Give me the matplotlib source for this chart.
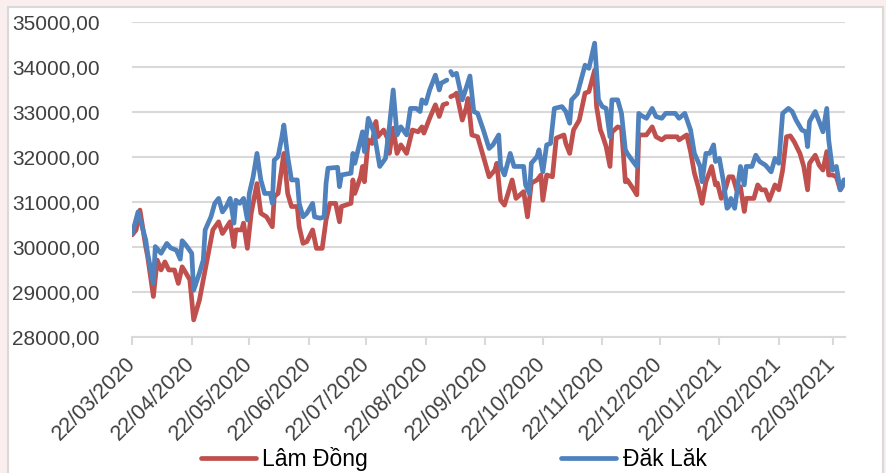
import numpy as np
import pandas as pd
import matplotlib
matplotlib.use("Agg")
import matplotlib.pyplot as plt
import matplotlib.dates as mdates
from matplotlib.patches import Rectangle
from matplotlib.ticker import FuncFormatter

plt.rcParams['font.family'] = ['Liberation Sans', 'DejaVu Sans']

START = pd.Timestamp('2020-03-22')

# days since 22/03/2020, price (VND/kg)
lam_dong_days = [0, 2, 4, 7, 8, 11, 13, 15, 17, 19, 22, 24, 26, 28, 30, 32, 35, 37, 40, 42,
                 45, 47, 51, 53, 54, 57, 58, 60, 62, 65, 67, 70, 73, 74, 76, 79, 81, 83, 86, 87,
                 89, 91, 94, 96, 99, 101, 103, 106, 108, 109, 114, 115, 116, 119, 120, 121, 123,
                 125, 127, 128, 131, 133, 134, 136, 138, 140, 143, 146, 149, 151, 152, 155, 158,
                 160, 162, 164, 165, 166, 168, 169, 172, 174, 175, 177, 180, 183, 186, 189, 190,
                 192, 194, 198, 200, 204, 206, 208, 211, 213, 214, 216, 219, 221, 225, 226, 228,
                 230, 233, 236, 238, 241, 242, 244, 245, 247, 249, 250, 253, 255, 257, 258, 261,
                 263, 264, 268, 271, 273, 276, 278, 284, 285, 289, 291, 293, 295, 297, 299, 302,
                 304, 305, 307, 309, 311, 313, 315, 317, 319, 320, 324, 326, 328, 330, 332, 335,
                 337, 339, 341, 343, 345, 348, 350, 352, 353, 356, 358, 360, 362, 363, 365, 367,
                 369, 370, 371]
lam_dong = [30270, 30380, 30820, 30010, 29790, 28900, 29710, 29490, 29670, 29490, 29490, 29190,
            29560, 29420, 29270, 28380, 28820, 29270, 29930, 30380, 30560, 30300, 30560, 30010,
            30380, 30380, 30530, 29970, 30750, 31410, 30750, 30670, 30450, 31120, 31190, 32080,
            31190, 30900, 30900, 30450, 30080, 30120, 30380, 29970, 29970, 30600, 30970, 30970,
            30560, 30900, 30970, 31490, 31190, 31560, 31790, 31450, 32380, 32300, 32790, 32450,
            32600, 32420, 32080, 32640, 32080, 32270, 32080, 32600, 32560, 32670, 32530, 32860,
            33160, 32900, 33160, 33190, np.nan, 33340, 33380, 33420, 32820, 33080, 33300, 32490,
            32450, 32010, 31560, 31710, 31860, 31040, 30930, 31490, 31080, 31230, 30670, 31420,
            31490, 31600, 31040, 31600, 31560, 32420, 32490, 32300, 32080, 32600, 32820, 33420,
            33450, 33930, 33120, 32600, 32490, 32230, 31790, 32550, 32670, 32640, 31450, 31490,
            31300, 31160, 32490, 32490, 32670, 32450, 32380, 32450, 32450, 32380, 32490, 32120,
            31640, 31340, 30970, 31450, 31790, 31380, 31420, 31080, 31270, 31560, 31560, 31270,
            31340, 30790, 31080, 31080, 31380, 31270, 31270, 31040, 31380, 31270, 31710, 32450,
            32470, 32340, 32080, 31790, 31270, 31860, 32040, 31820, 31710, 32120, 31600, 31600,
            31560, 31270, 31340, 31490]

dak_lak_days = [0, 3, 7, 8, 11, 12, 15, 18, 20, 23, 25, 26, 28, 31, 32, 35, 37, 38, 41, 43,
                45, 47, 49, 51, 53, 54, 56, 58, 60, 61, 63, 65, 67, 69, 72, 73, 74, 76, 78, 79,
                81, 83, 86, 87, 89, 91, 94, 95, 98, 100, 101, 102, 107, 108, 109, 114, 115, 116,
                120, 121, 123, 126, 129, 132, 134, 136, 138, 140, 143, 145, 148, 150, 151, 153,
                155, 158, 160, 161, 164, 165, 166, 167, 169, 172, 174, 176, 178, 180, 183, 186,
                188, 191, 192, 194, 197, 199, 201, 204, 205, 207, 208, 211, 212, 214, 216, 218,
                220, 224, 226, 228, 229, 232, 236, 238, 241, 243, 245, 247, 249, 250, 253, 255,
                257, 258, 261, 263, 264, 265, 268, 271, 273, 276, 278, 283, 285, 288, 291, 293,
                296, 297, 299, 301, 303, 304, 306, 308, 310, 311, 312, 314, 317, 319, 320, 323,
                325, 327, 330, 333, 335, 337, 339, 342, 344, 346, 349, 351, 352, 353, 356, 358,
                360, 362, 363, 365, 367, 369, 370, 371]
dak_lak = [30300, 30780, 30160, 29860, 29190, 30010, 29860, 30080, 29980, 29930, 29730, 30140,
           30040, 29860, 29040, 29420, 29710, 30380, 30670, 30970, 31080, 30780, 30900, 31080,
           30530, 31040, 30970, 31080, 30600, 31190, 31560, 32080, 31490, 31190, 31190, 30970,
           31930, 32010, 32450, 32710, 32010, 31490, 31490, 30970, 30670, 30750, 30970, 30670,
           30640, 30670, 31410, 31750, 31770, 31340, 31600, 31640, 32080, 31860, 32560, 32120,
           32860, 32550, 31790, 31970, 32670, 33490, 32490, 32670, 32490, 33080, 33080, 33010,
           33270, 33190, 33490, 33820, 33490, 33640, 33710, np.nan, 33900, 33820, 33860, 33270,
           33530, 33800, 33010, 32970, 32600, 32190, 32270, 32490, 31790, 31600, 32080, 31790,
           31790, 31790, 31380, 31190, 31860, 32010, 32160, 31670, 32270, 32300, 33080, 33120,
           33010, 32750, 33270, 33410, 34040, 33970, 34530, 33270, 33120, 33080, 32450, 33270,
           33270, 32970, 32160, 32080, 31900, 31790, 32970, 32930, 32860, 33080, 32900, 32860,
           32970, 32970, 32860, 32970, 32600, 32080, 31790, 31450, 32080, 32080, 32270, 31900,
           31970, 31490, 30860, 30900, 31080, 30860, 31790, 31380, 31790, 31790, 32040, 31900,
           31820, 31670, 31970, 31860, 32970, 33080, 33010, 32820, 32600, 32560, 32230, 32790,
           33010, 32790, 32560, 33080, 32380, 31710, 31790, 31270, 31340, 31490]

tick_dates = pd.date_range('2020-03-01', '2021-03-22', freq='MS') + pd.Timedelta(days=21)

ld_x = START + pd.to_timedelta(lam_dong_days, unit='D')
dl_x = START + pd.to_timedelta(dak_lak_days, unit='D')

W, H = 887, 473
fig = plt.figure(figsize=(W / 100, H / 100), dpi=100, facecolor='#FAEEEE')
fig.patches.append(Rectangle((8 / W, -0.02), 875 / W, 1.02 - 7 / H,
                             transform=fig.transFigure, facecolor='white',
                             edgecolor='#D9D9D9', lw=1.5, zorder=-1))

ax = fig.add_axes([131.7 / W, 1 - 337 / H, (845 - 131.7) / W, (337 - 22) / H])
ax.set_facecolor('none')

red, blue = '#C0504D', '#4F81BD'
ax.plot(ld_x, lam_dong, color=red, lw=3.4, solid_capstyle='round', label='Lâm Đồng', zorder=3)
ax.plot(dl_x, dak_lak, color=blue, lw=3.4, solid_capstyle='round', label='Đăk Lăk', zorder=4)

ax.set_ylim(28000, 35000)
ax.set_yticks(np.arange(28000, 35001, 1000))
ax.yaxis.set_major_formatter(FuncFormatter(lambda v, p: '{:.2f}'.format(v).replace('.', ',')))
ax.set_xlim(START - pd.Timedelta(days=0.3), START + pd.Timedelta(days=371.5))
ax.set_xticks(tick_dates)
ax.xaxis.set_major_formatter(mdates.DateFormatter('%d/%m/%Y'))

ax.grid(axis='y', color='#D9D9D9', lw=1.5)
ax.set_axisbelow(True)
for s in ['top', 'right', 'left']:
    ax.spines[s].set_visible(False)
ax.spines['bottom'].set_color('#D9D9D9')
ax.spines['bottom'].set_linewidth(1.5)

ax.tick_params(axis='y', length=0, pad=23, labelsize=15, labelcolor='#404040')
ax.tick_params(axis='x', length=6, width=1.5, color='#D9D9D9', pad=11,
               labelsize=15.5, labelcolor='#404040')
for lab in ax.get_xticklabels():
    lab.set_rotation(45)
    lab.set_ha('right')
    lab.set_va('center')
    lab.set_rotation_mode('anchor')

fig.legend(loc='lower left', bbox_to_anchor=(180 / W, -0.04), ncol=2, frameon=False,
           fontsize=16.5, handlelength=2.4, handletextpad=0.3, columnspacing=8.4)

fig.savefig('out.png', dpi=100, facecolor=fig.get_facecolor())
